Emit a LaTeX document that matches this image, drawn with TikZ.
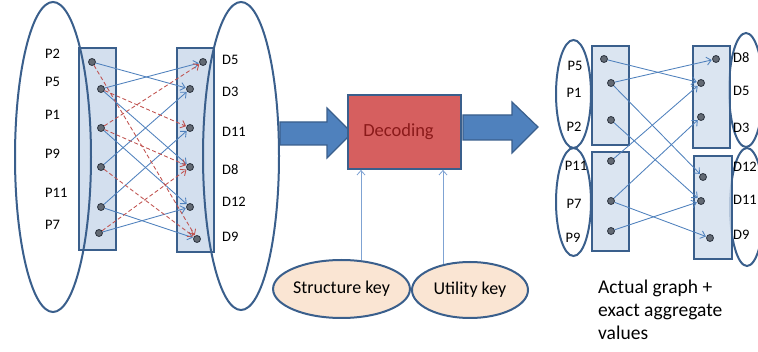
\documentclass[tikz,border=0pt]{standalone}
\usepackage{fontspec}
\setmainfont{Carlito}
\usetikzlibrary{shapes.geometric,arrows.meta,calc}
\definecolor{edgeblue}{HTML}{4F81BD}
\definecolor{edgered}{HTML}{C0504D}
\definecolor{frame}{HTML}{3A5F8C}
\definecolor{rectfill}{HTML}{D3DFEE}
\definecolor{dotfill}{HTML}{636A74}
\definecolor{dotline}{HTML}{2C3440}
\definecolor{decfill}{HTML}{D65F5F}
\definecolor{dectext}{HTML}{8B1A1A}
\definecolor{keyfill}{HTML}{FAE5D3}
\definecolor{keyline}{HTML}{7FA3D3}
\begin{document}
\begin{tikzpicture}[x=1pt,y=-1pt,
  frameell/.style={ellipse, draw=frame, line width=2pt, inner sep=0pt},
  setbox/.style={rectangle, draw=frame, line width=2.2pt, fill=rectfill, anchor=north west, inner sep=0pt},
  dot/.style={circle, fill=dotfill, draw=dotline, line width=0.8pt, minimum size=7pt, inner sep=0pt},
  be/.style={draw=edgeblue, line width=0.85pt, -{Straight Barb[length=4.5pt,width=8pt]}, shorten >=0.5pt},
  re/.style={draw=edgered, line width=0.85pt, dash pattern=on 4pt off 2.5pt, -{Straight Barb[length=4.5pt,width=8pt]}, shorten >=0.5pt},
  lab/.style={font=\fontsize{14.5}{16}\selectfont, inner sep=0pt, anchor=west},
  labc/.style={font=\fontsize{14.5}{16}\selectfont, inner sep=0pt},
  bigarrow/.style={fill=edgeblue, draw=frame, line width=1.2pt, line join=miter},
  keyell/.style={ellipse, draw=frame, line width=2pt, fill=keyfill, inner sep=0pt, font=\fontsize{18}{22}\selectfont},
  keyarrow/.style={draw=keyline, line width=0.8pt, -{Straight Barb[length=4.5pt,width=8pt]}}
]
\useasboundingbox (0,0) rectangle (758,352);
\fill[white] (0,0) rectangle (758,352);

% ---------- left graph ----------
\node[setbox, minimum width=37pt, minimum height=202pt] (lbox) at (78,47) {};
\node[setbox, minimum width=37pt, minimum height=204pt] (rbox) at (176,47) {};
\node[frameell, minimum width=76pt, minimum height=310pt] (lell) at (53,157) {};
\node[frameell, minimum width=76pt, minimum height=308pt] (rell) at (241,156) {};

\node[lab] (lP2) at (45,54) {P2};
\node[lab] (lP5) at (45,82) {P5};
\node[lab] (lP1) at (45,115) {P1};
\node[lab] (lP9) at (45,154) {P9};
\node[lab] (lP11) at (45,193) {P11};
\node[lab] (lP7) at (45,225) {P7};
\node[lab] (lD5) at (222,60) {D5};
\node[lab] (lD3) at (222,92) {D3};
\node[lab] (lD11) at (222,132) {D11};
\node[lab] (lD8) at (222,170) {D8};
\node[lab] (lD12) at (222,202) {D12};
\node[lab] (lD9) at (222,237) {D9};

\node[dot] (p2) at (92,62) {};
\node[dot] (p5) at (101,89) {};
\node[dot] (p1) at (101,128) {};
\node[dot] (p9) at (101,167) {};
\node[dot] (p11) at (101,207) {};
\node[dot] (p7) at (99,233) {};
\node[dot] (d5) at (203,62) {};
\node[dot] (d3) at (190,89) {};
\node[dot] (d11) at (190,128) {};
\node[dot] (d8) at (190,167) {};
\node[dot] (d12) at (190,207) {};
\node[dot] (d9) at (197,239) {};

\draw[be] (p2) -- (d3);
\draw[be] (p5) -- (d5);
\draw[be] (p5) -- (d8);
\draw[be] (p1) -- (d12);
\draw[be] (p9) -- (d3);
\draw[be] (p11) -- (d11);
\draw[be] (p11) -- (d9);
\draw[be] (p7) -- (d12);
\draw[re] (p2) -- (d9);
\draw[re] (p5) -- (d11);
\draw[re] (p1) -- (d5);
\draw[re] (p1) -- (d8);
\draw[re] (p9) -- (d9);
\draw[re] (p7) -- (d8);

% ---------- middle ----------
\draw[bigarrow] (280,122) -- (327,122) -- (327,108) -- (352,133) -- (327,158) -- (327,145) -- (280,145) -- cycle;
\draw[bigarrow] (463,115) -- (512,115) -- (512,102) -- (538,127) -- (512,153) -- (512,140) -- (463,140) -- cycle;
\node[rectangle, draw=frame, line width=1.8pt, fill=decfill, minimum width=113pt, minimum height=74pt, inner sep=0pt,
      text=dectext, font=\fontsize{18.5}{22}\selectfont] (dec) at (404.5,132) {\hspace*{-12pt}Decoding};
\node[keyell, minimum width=136pt, minimum height=58pt] (sk) at (341.5,289) {Structure key};
\node[keyell, minimum width=116pt, minimum height=56pt] (uk) at (470,290) {Utility key};
\coordinate (xa) at (361,0);
\coordinate (xb) at (443,0);
\draw[keyarrow] ($(xa |- sk.north)+(0,1)$) -- (xa |- dec.south);
\draw[keyarrow] ($(xb |- uk.north)+(0,3)$) -- (xb |- dec.south);

% ---------- right graph ----------
\node[frameell, minimum width=35pt, minimum height=108pt] (e1) at (573.5,94) {};
\node[frameell, minimum width=35pt, minimum height=108pt] (e2) at (573.5,202) {};
\node[frameell, minimum width=34pt, minimum height=114pt] (e3) at (746,90) {};
\node[frameell, minimum width=34pt, minimum height=118pt] (e4) at (747,207) {};
\node[setbox, fill opacity=0.8, minimum width=37pt, minimum height=99pt] (b1) at (591,45) {};
\node[setbox, fill opacity=0.8, minimum width=37pt, minimum height=99pt] (b2) at (591,151) {};
\node[setbox, fill opacity=0.8, minimum width=37pt, minimum height=102pt] (b3) at (692,45) {};
\node[setbox, fill opacity=0.8, minimum width=38pt, minimum height=103pt] (b4) at (693,155) {};

\node[labc] (rP5) at (575,66) {P5};
\node[labc] (rP1) at (574,93) {P1};
\node[labc] (rP2) at (574,127) {P2};
\node[labc] (rP11) at (576,166) {P11};
\node[labc] (rP7) at (574,204) {P7};
\node[labc] (rP9) at (573,238) {P9};
\node[lab] (rD8) at (733,58) {D8};
\node[lab] (rD5) at (733,91) {D5};
\node[lab] (rD3) at (733,128) {D3};
\node[lab] (rD12) at (733,167) {D12};
\node[lab] (rD11) at (733,200) {D11};
\node[lab] (rD9) at (733,235) {D9};

\node[dot] (q5) at (604,59) {};
\node[dot] (q1) at (611,83) {};
\node[dot] (q2) at (611,120) {};
\node[dot] (q11) at (611,161) {};
\node[dot] (q7) at (611,201) {};
\node[dot] (q9) at (611,231) {};
\node[dot] (e8) at (716,59) {};
\node[dot] (e5) at (701,83) {};
\node[dot] (e3d) at (701,117) {};
\node[dot] (e12) at (703,177) {};
\node[dot] (e11) at (701,201) {};
\node[dot] (e9) at (710,238) {};

\draw[be] (q5) -- (e5);
\draw[be] (q1) -- (e8);
\draw[be] (q1) -- (e12);
\draw[be] (q2) -- (e11);
\draw[be] (q11) -- (e5);
\draw[be] (q7) -- (e3d);
\draw[be] (q7) -- (e9);
\draw[be] (q9) -- (e11);

\node[anchor=north west, inner sep=0pt, align=left, font=\fontsize{19.5}{23}\selectfont] (cap) at (598,280)
  {Actual graph +\\exact aggregate\\values};
\end{tikzpicture}
\end{document}
